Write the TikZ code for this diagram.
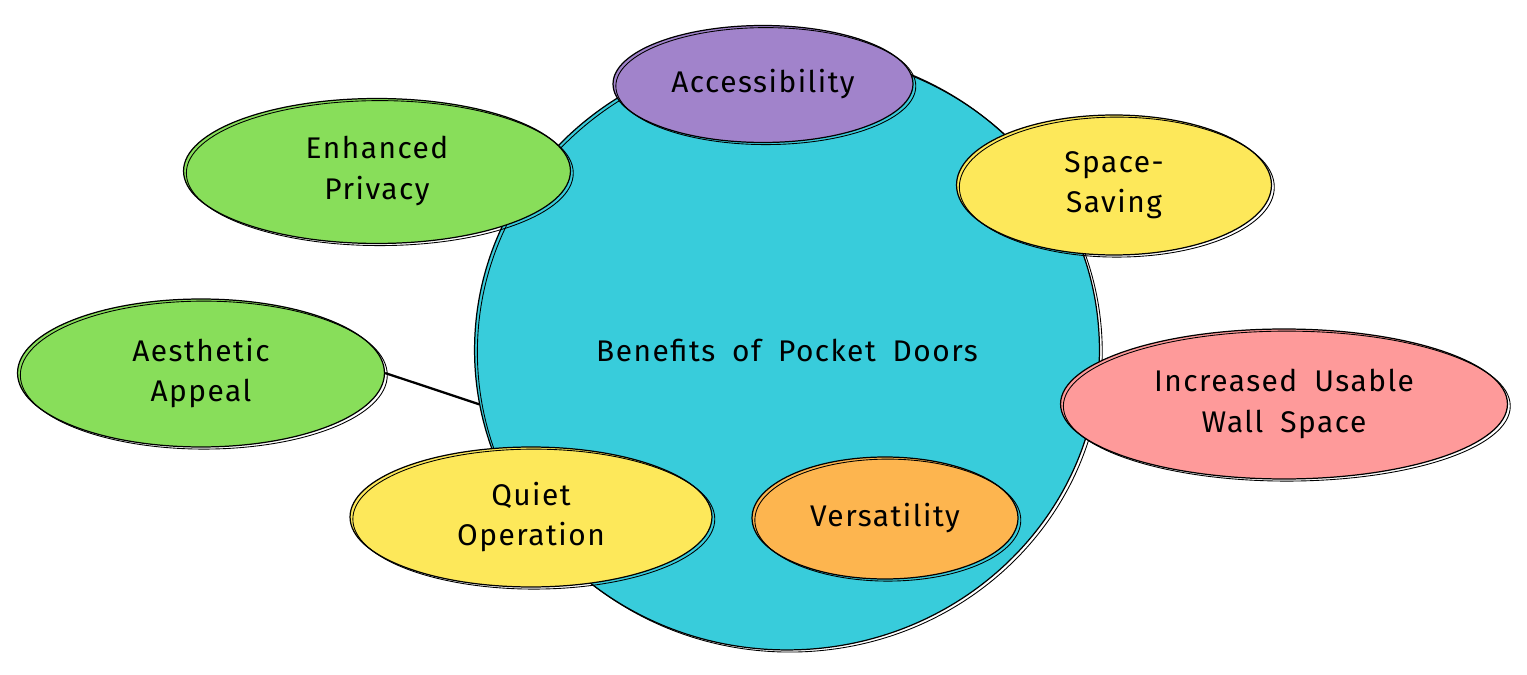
\documentclass[tikz,border=0pt]{standalone}
\usepackage{fontspec}
\setmainfont{Fira Sans}[LetterSpace=5,WordSpace=1.8]
\usetikzlibrary{shapes.geometric}
\definecolor{ccyan}{HTML}{38CCDB}
\definecolor{cpurple}{HTML}{A183CB}
\definecolor{cgreen}{HTML}{88DE5A}
\definecolor{cyellow}{HTML}{FDE85A}
\definecolor{cpink}{HTML}{FE9A9A}
\definecolor{corange}{HTML}{FDB54F}
\tikzset{
  bubble/.style={ellipse, draw=black, line width=0.7pt, inner sep=0pt, align=center,
    font=\fontsize{17}{23}\selectfont,
    postaction={draw=black, line width=0.5pt, transform canvas={shift={(1.6pt,-1.2pt)}}}},
  link/.style={draw=black, line width=1.3pt}
}
\begin{document}
\begin{tikzpicture}[x=0.02cm,y=-0.02cm]
\useasboundingbox[fill=white] (0,0) rectangle (1527,675);
\node[bubble, fill=ccyan, minimum width=12.5cm, minimum height=12cm] (c) at (787,350) {Benefits of Pocket Doors};
\node[bubble, fill=cpurple, minimum width=6cm, minimum height=2.34cm] (acc) at (763,84) {Accessibility};
\node[bubble, fill=cgreen, minimum width=7.74cm, minimum height=2.9cm] (priv) at (377,171) {Enhanced\\Privacy};
\node[bubble, fill=cyellow, minimum width=6.3cm, minimum height=2.8cm] (space) at (1114,185) {Space-\\Saving};
\node[bubble, fill=cgreen, minimum width=7.34cm, minimum height=2.96cm] (aes) at (201,373) {Aesthetic\\Appeal};
\node[bubble, fill=cpink, minimum width=8.94cm, minimum height=3cm] (wall) at (1284,404) {Increased Usable\\Wall Space};
\node[bubble, fill=cyellow, minimum width=7.24cm, minimum height=2.8cm] (quiet) at (531,517) {Quiet\\Operation};
\node[bubble, fill=corange, minimum width=5.32cm, minimum height=2.44cm] (vers) at (885,518) {Versatility};
\draw[link] (aes.0) -- (c.190);
\end{tikzpicture}
\end{document}
